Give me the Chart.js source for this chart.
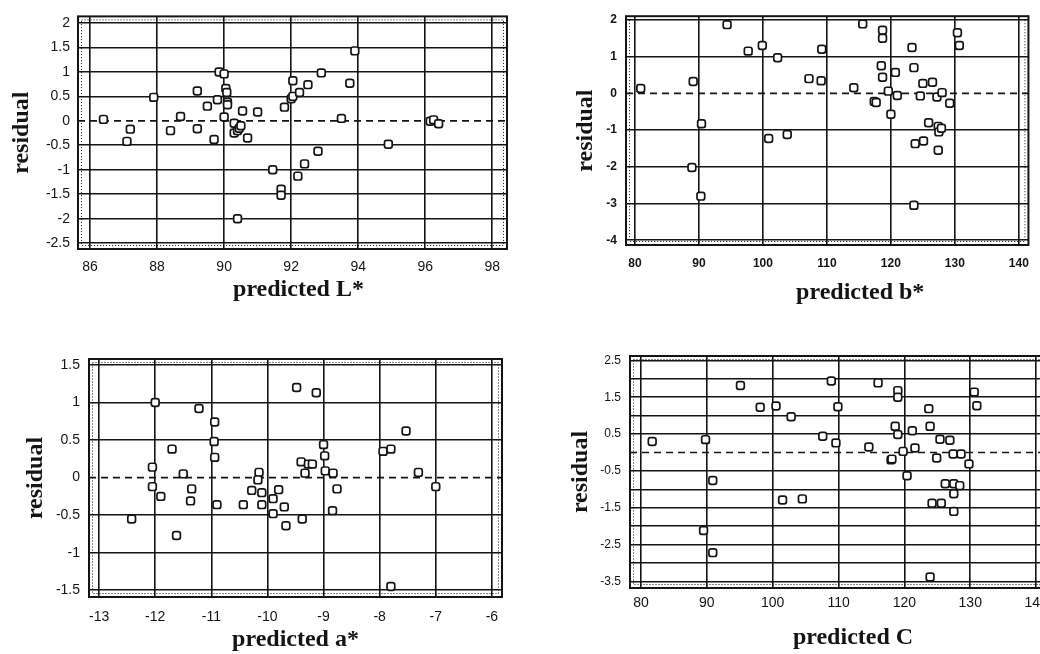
<!DOCTYPE html>
<html>
<head>
<meta charset="utf-8">
<script src="https://cdn.jsdelivr.net/npm/chart.js@4.4.1/dist/chart.umd.min.js"></script>
<style>
html,body{margin:0;padding:0;background:#fff;overflow:hidden;width:1040px;height:654px;}
canvas{position:absolute;}
</style>
</head>
<body>
<canvas id="cL" width="520" height="320" style="left:0;top:0"></canvas>
<canvas id="cB" width="520" height="320" style="left:520px;top:0"></canvas>
<canvas id="cA" width="520" height="334" style="left:0;top:320px"></canvas>
<canvas id="cC" width="560" height="334" style="left:520px;top:320px"></canvas>
<script>
// ---------- Panel L* ----------
const lX = [86.4,87.1,87.2,87.9,88.4,88.7,89.2,89.2,89.5,89.7,89.8,89.85,90.0,90.0,90.05,90.08,90.1,90.1,90.3,90.3,90.4,90.45,90.5,90.4,90.55,90.7,91.0,91.45,91.7,91.7,91.8,92.0,92.05,92.05,92.2,92.25,92.4,92.5,92.8,92.9,93.5,93.75,93.9,94.9,96.15,96.25,96.4];
const lY = [0.03,-0.42,-0.17,0.48,-0.2,0.09,0.61,-0.16,0.3,-0.38,0.43,1.0,0.96,0.08,0.66,0.58,0.38,0.33,-0.05,-0.25,-0.2,-0.15,-0.1,-2.0,0.2,-0.35,0.18,-1.0,-1.4,-1.52,0.28,0.45,0.82,0.5,-1.13,0.58,-0.88,0.74,-0.62,0.98,0.05,0.77,1.43,-0.48,-0.01,0.02,-0.06];
const lXTicks = [86,88,90,92,94,96,98];
const lXTickLabels = ['86','88','90','92','94','96','98'];
const lYTicks = [2,1.5,1,0.5,0,-0.5,-1,-1.5,-2,-2.5];
const lYTickLabels = ['2','1.5','1','0.5','0','-0.5','-1','-1.5','-2','-2.5'];
const lXRange = [85.64, 98.44];
const lYRange = [-2.62, 2.135];

// ---------- Panel b* ----------
const bX = [80.9,89.1,88.9,90.4,90.3,94.4,97.7,99.9,100.9,102.3,103.8,107.2,109.1,109.2,114.2,115.6,117.4,117.7,118.5,118.7,118.7,118.7,119.6,120.0,120.7,121.0,123.3,123.6,123.8,123.6,124.6,125.0,125.1,125.9,126.5,127.2,127.4,127.5,127.9,127.4,128.0,129.2,130.4,130.7];
const bY = [0.13,0.32,-2.02,-0.83,-2.8,1.87,1.15,1.3,-1.23,0.97,-1.12,0.4,0.34,1.2,0.15,1.89,-0.22,-0.25,0.75,0.44,1.72,1.5,0.06,-0.57,0.57,-0.06,1.25,0.7,-1.37,-3.05,-0.07,0.27,-1.3,-0.8,0.3,-0.1,-0.9,-1.05,-0.95,-1.55,0.02,-0.27,1.65,1.3];
const bXTicks = [80,90,100,110,120,130,140];
const bXTickLabels = ['80','90','100','110','120','130','140'];
const bYTicks = [2,1,0,-1,-2,-3,-4];
const bYTickLabels = ['2','1','0','-1','-2','-3','-4'];
const bXRange = [78.6, 141.5];
const bYRange = [-4.13, 2.1];

// ---------- Panel a* ----------
const aX = [-12.42,-12.05,-12.05,-12.0,-11.9,-11.7,-11.62,-11.5,-11.35,-11.37,-11.22,-10.94,-10.95,-10.94,-10.9,-10.43,-10.28,-10.15,-10.17,-10.1,-10.1,-9.9,-9.8,-9.9,-9.7,-9.67,-9.48,-9.4,-9.33,-9.38,-9.27,-9.2,-9.13,-9.0,-8.98,-8.97,-8.83,-8.84,-8.76,-7.94,-7.8,-7.8,-7.53,-7.31,-7.0];
const aY = [-0.55,0.14,-0.12,1.0,-0.25,0.38,-0.77,0.05,-0.15,-0.31,0.92,0.74,0.48,0.27,-0.36,-0.36,-0.17,0.07,-0.03,-0.2,-0.36,-0.28,-0.16,-0.48,-0.39,-0.64,1.2,0.21,0.06,-0.55,0.18,0.18,1.13,0.44,0.29,0.09,0.06,-0.44,-0.15,0.35,0.38,-1.45,0.62,0.07,-0.12];
const aXTicks = [-13,-12,-11,-10,-9,-8,-7,-6];
const aXTickLabels = ['-13','-12','-11','-10','-9','-8','-7','-6'];
const aYTicks = [1.5,1,0.5,0,-0.5,-1,-1.5];
const aYTickLabels = ['1.5','1','0.5','0','-0.5','-1','-1.5'];
const aXRange = [-13.18, -5.82];
const aYRange = [-1.59, 1.58];

// ---------- Panel C ----------
const cX = [81.7,89.8,89.5,90.9,90.9,95.1,98.1,100.5,101.5,102.8,104.5,107.6,108.9,109.6,109.9,114.6,116.0,117.97,118.1,118.6,119.0,119.0,119.0,119.8,120.4,121.2,121.6,123.7,123.9,123.9,124.2,124.9,125.4,125.6,126.2,126.9,127.4,127.5,127.5,127.5,128.4,128.6,129.8,130.6,131.0];
const cY = [0.3,0.35,-2.12,-0.76,-2.72,1.82,1.23,1.26,-1.29,0.97,-1.26,0.44,1.94,0.26,1.24,0.15,1.89,-0.2,-0.18,0.71,0.49,1.68,1.5,0.03,-0.63,0.59,0.12,1.19,0.71,-3.38,-1.38,-0.15,0.36,-1.38,-0.85,0.33,-0.04,-0.85,-1.12,-1.6,-0.9,-0.04,-0.31,1.64,1.27];
const cXTicks = [80,90,100,110,120,130,140];
const cXTickLabels = ['80','90','100','110','120','130','140'];
const cYTicks = [2.5,2,1.5,1,0.5,0,-0.5,-1,-1.5,-2,-2.5,-3,-3.5];
const cYTickLabels = ['2.5','','1.5','','0.5','','-0.5','','-1.5','','-2.5','','-3.5'];
const cXRange = [78.33, 141.5];
const cYRange = [-3.68, 2.62];

// ---------- drawing ----------
const INK = '#141414';
const framePlugin = {
  id: 'frame',
  beforeDatasetsDraw(chart) {
    const {ctx, chartArea: a} = chart;
    ctx.save();
    ctx.strokeStyle = INK;
    ctx.lineWidth = 2;
    ctx.strokeRect(a.left, a.top, a.right - a.left, a.bottom - a.top);
    ctx.lineWidth = 1;
    ctx.setLineDash([1, 2]);
    ctx.strokeRect(a.left + 3.5, a.top + 3.5, a.right - a.left - 7, a.bottom - a.top - 7);
    ctx.restore();
  }
};

function labelFor(ticks, labels) {
  return (v) => { const i = ticks.findIndex(t => Math.abs(t - v) < 1e-9); return i >= 0 ? labels[i] : ''; };
}

function makePanel(id, d, s) {
  const pts = d.x.map((x, i) => ({x: x, y: d.y[i]}));
  new Chart(document.getElementById(id), {
    type: 'scatter',
    data: {
      datasets: [
        { data: pts, pointStyle: 'rectRounded', pointRadius: 4.5, pointBorderWidth: 1.7,
          pointBorderColor: INK, pointBackgroundColor: '#fff', order: 0 },
        { type: 'line', data: [{x: d.xr[0], y: 0}, {x: d.xr[1], y: 0}], borderColor: INK,
          borderWidth: 1.7, borderDash: [7, 5], pointRadius: 0, fill: false, order: 1 }
      ]
    },
    options: {
      responsive: false, animation: false,
      layout: { padding: s.pad },
      plugins: { legend: {display: false}, tooltip: {enabled: false} },
      scales: {
        x: {
          type: 'linear', min: d.xr[0], max: d.xr[1],
          afterBuildTicks: (sc) => { sc.ticks = d.xt.map(v => ({value: v})); },
          afterFit: (sc) => { sc.height = s.xh; },
          grid: { color: INK, lineWidth: 1.6, drawTicks: false },
          border: { display: false },
          ticks: { autoSkip: false, maxRotation: 0, padding: s.xtp, color: INK,
                   font: s.xFont, callback: labelFor(d.xt, d.xl) },
          title: { display: true, text: d.xTitle, color: INK,
                   font: {family: 'Liberation Serif', size: 24, weight: 'bold'},
                   padding: {top: 0, bottom: s.xTitlePad} }
        },
        y: {
          type: 'linear', min: d.yr[0], max: d.yr[1],
          afterBuildTicks: (sc) => { sc.ticks = d.yt.map(v => ({value: v})); },
          afterFit: (sc) => { sc.width = s.yw; },
          grid: { color: (c) => (c.tick && c.tick.value === 0) ? 'rgba(0,0,0,0)' : INK,
                  lineWidth: 1.6, drawTicks: false },
          border: { display: false },
          ticks: { autoSkip: false, padding: s.ytp, color: INK,
                   font: s.yFont, callback: labelFor(d.yt, d.yl) },
          title: { display: true, text: 'residual', color: INK,
                   font: {family: 'Liberation Serif', size: 24, weight: 'bold'},
                   padding: {top: s.yTitlePad, bottom: 0} }
        }
      }
    },
    plugins: [framePlugin]
  });
}

const sansReg = {family: 'Liberation Sans', size: 14};
makePanel('cL',
  {x: lX, y: lY, xt: lXTicks, xl: lXTickLabels, yt: lYTicks, yl: lYTickLabels, xr: lXRange, yr: lYRange, xTitle: '  predicted L*'},
  {pad: {left: 0, top: 13, right: 13, bottom: 0}, xh: 71, yw: 78, xtp: 10, ytp: 8, xFont: sansReg, yFont: sansReg, xTitlePad: 16, yTitlePad: 7});
makePanel('cB',
  {x: bX, y: bY, xt: bXTicks, xl: bXTickLabels, yt: bYTicks, yl: bYTickLabels, xr: bXRange, yr: bYRange, xTitle: '           predicted b*'},
  {pad: {left: 0, top: 13, right: 5, bottom: 0}, xh: 75, yw: 106, xtp: 11, ytp: 9,
   xFont: {family: 'Liberation Sans', size: 12, weight: 'bold'}, yFont: {family: 'Liberation Sans', size: 12, weight: 'bold'},
   xTitlePad: 13, yTitlePad: 51});
makePanel('cA',
  {x: aX, y: aY, xt: aXTicks, xl: aXTickLabels, yt: aYTicks, yl: aYTickLabels, xr: aXRange, yr: aYRange, xTitle: 'predicted a*'},
  {pad: {left: 0, top: 39, right: 18, bottom: 0}, xh: 57, yw: 89, xtp: 12, ytp: 9, xFont: sansReg, yFont: sansReg, xTitlePad: 0, yTitlePad: 21});
makePanel('cC',
  {x: cX, y: cY, xt: cXTicks, xl: cXTickLabels, yt: cYTicks, yl: cYTickLabels, xr: cXRange, yr: cYRange, xTitle: '     predicted C'},
  {pad: {left: 0, top: 36, right: 34, bottom: 0}, xh: 66, yw: 110, xtp: 7, ytp: 9,
   xFont: sansReg, yFont: {family: 'Liberation Sans', size: 12}, xTitlePad: 2, yTitlePad: 46});
</script>
</body>
</html>
